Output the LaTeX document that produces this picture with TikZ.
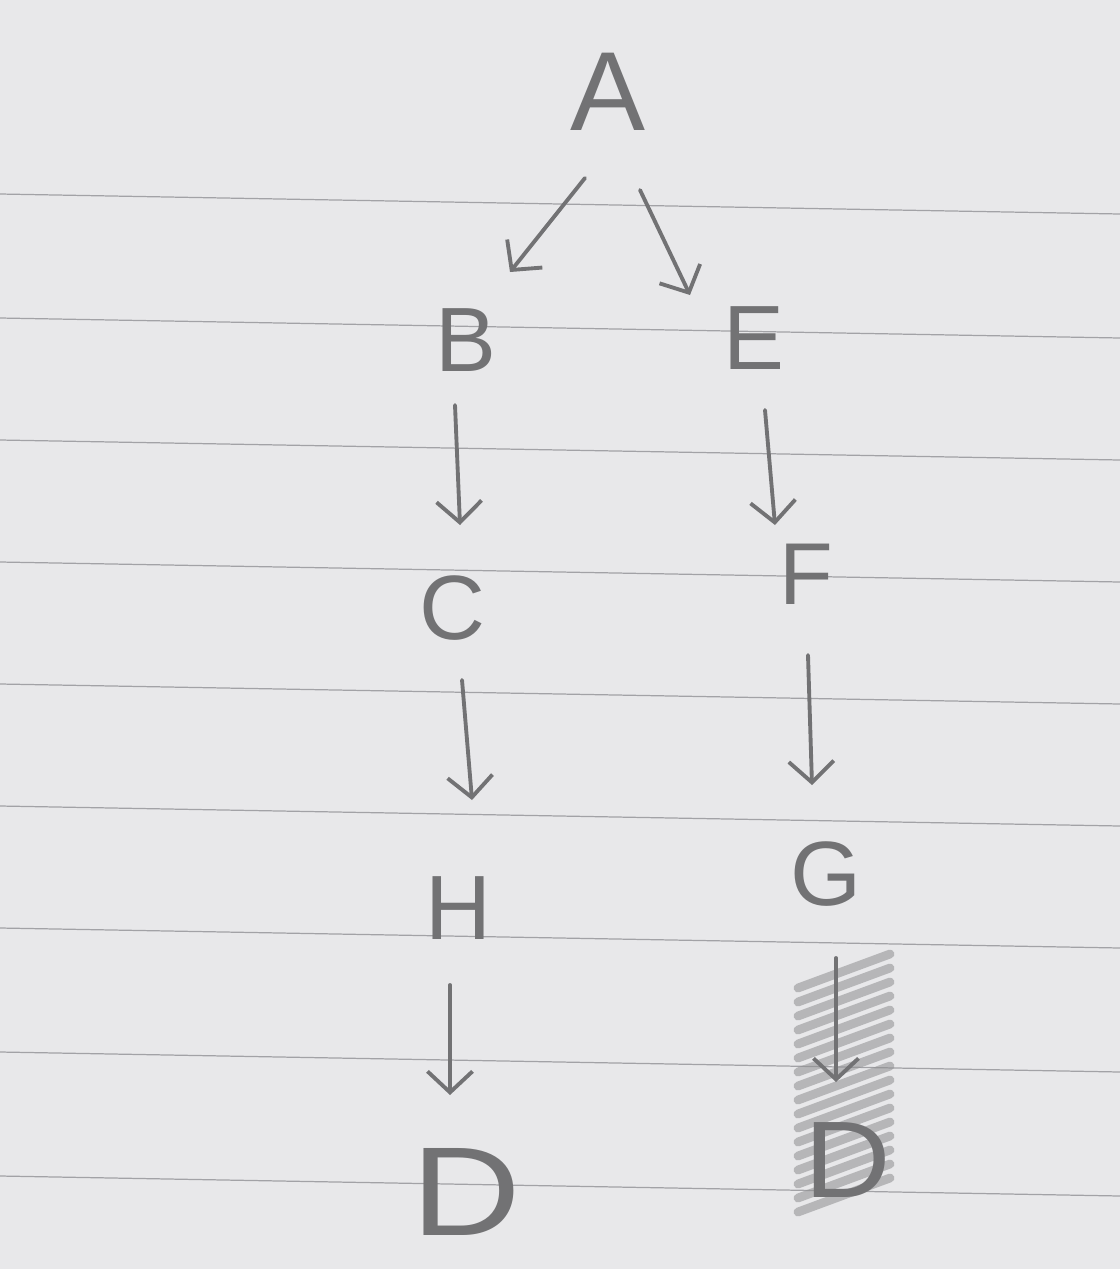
\documentclass[tikz,border=0pt]{standalone}
\usepackage{fontspec}
\setmainfont{Liberation Sans}
\usetikzlibrary{arrows.meta,calc}
\definecolor{paper}{HTML}{E8E8EA}
\definecolor{rule}{HTML}{A2A2A6}
\definecolor{pencil}{HTML}{727274}
\definecolor{shade}{HTML}{8E8E90}
\tikzset{
  letter/.style={text=pencil, inner sep=0pt, font=\fontsize{#1}{#1}\selectfont},
  arr/.style={draw=pencil, line width=2.2pt, line cap=round,
    -{Straight Barb[length=0.42cm,width=0.9cm,line width=2.2pt]}},
  ruling/.style={draw=rule, line width=0.7pt},
  hatch/.style={draw=shade, line width=5pt, line cap=round, opacity=0.55}
}
\begin{document}
\begin{tikzpicture}[x=0.02cm,y=-0.02cm]
\fill[paper] (0,0) rectangle (1120,1269);
\useasboundingbox (0,0) rectangle (1120,1269);
% ruled lines
\foreach \yy in {194,318,440,562,684,806,928,1052,1176}
  \draw[ruling] (0,\yy) -- (1120,\yy+20);
% scribble behind the right D
\foreach \yy in {972,986,...,1196}
  \draw[hatch] (798,\yy+16) -- (890,\yy-18);
% letters
\node[letter=64] (a) at (608,92) {A};
\node[letter=52] (b) at (466,340) {B};
\node[letter=52] (e) at (754,338) {E};
\node[letter=52] (c) at (452,608) {C};
\node[letter=50] (f) at (806,574) {F};
\node[letter=52] (h) at (458,908) {H};
\node[letter=52] (g) at (826,874) {G};
\node[letter=72, xscale=1.2] (d1) at (466,1192) {D};
\node[letter=62, xscale=1.1] (d2) at (848,1160) {D};
% arrows
\draw[arr] ($(a)+(-23,86)$) -- ($(b)+(44,-68)$);
\draw[arr] ($(a)+(32,98)$) -- ($(e)+(-64,-43)$);
\draw[arr] ($(b)+(-11,65)$) -- ($(c)+(8,-83)$);
\draw[arr] ($(e)+(11,72)$) -- ($(f)+(-31,-49)$);
\draw[arr] ($(c)+(10,72)$) -- ($(h)+(14,-108)$);
\draw[arr] ($(f)+(2,81)$) -- ($(g)+(-14,-89)$);
\draw[arr] ($(h)+(-8,77)$) -- ($(d1)+(-16,-97)$);
\draw[arr] ($(g)+(10,84)$) -- ($(d2)+(-12,-78)$);
\end{tikzpicture}
\end{document}
